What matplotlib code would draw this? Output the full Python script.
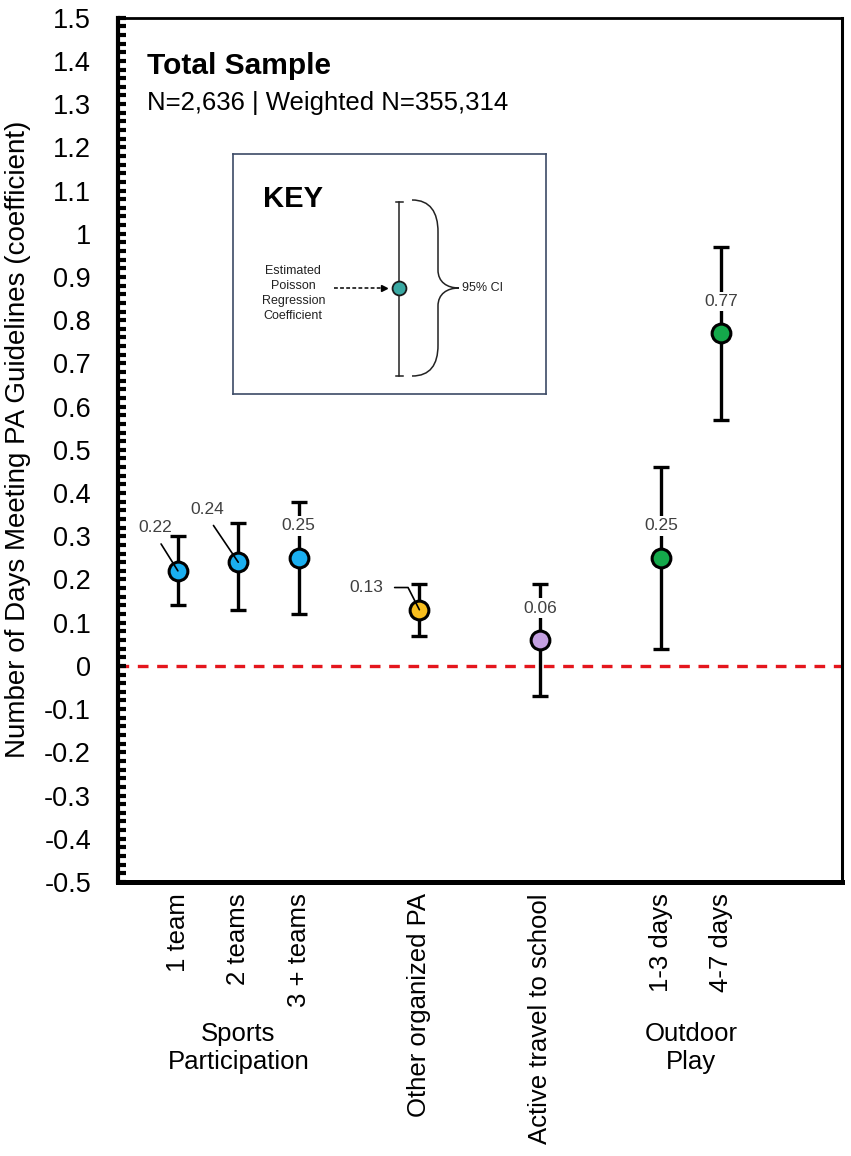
import numpy as np
import matplotlib
matplotlib.use("Agg")
from matplotlib import pyplot as plt
from matplotlib.path import Path
from matplotlib.patches import PathPatch
from matplotlib.ticker import MultipleLocator, FuncFormatter

plt.rcParams['font.family'] = ['Liberation Sans', 'DejaVu Sans']

# groups of predictors (x axis)
group_names = ["Sports\nParticipation", "", "", "Outdoor\nPlay"]
group_items = [["1 team", "2 teams", "3 + teams"],
               ["Other organized PA"],
               ["Active travel to school"],
               ["1-3 days", "4-7 days"]]

# Poisson regression coefficients and 95% CI
coef = [0.22, 0.24, 0.25, 0.13, 0.06, 0.25, 0.77]
ci_low = [0.14, 0.13, 0.12, 0.07, -0.07, 0.04, 0.57]
ci_high = [0.30, 0.33, 0.38, 0.19, 0.19, 0.46, 0.97]
labels = ["0.22", "0.24", "0.25", "0.13", "0.06", "0.25", "0.77"]

colors = ['#1aaff0', '#1aaff0', '#1aaff0', '#f8be1e', '#c4a0e0', '#14a94b', '#14a94b']
# label placement (offset in points from the marker, leader type)
label_style = [((-16, 31), 'lead'), ((-22, 38), 'lead'), ((0, 23), 'box'),
               ((-38, 16), 'elbow'), ((0, 23), 'box'), ((0, 23), 'box'), ((0, 23), 'box')]

# x positions: 1 apart inside a group, 2 apart between groups
xpos, names, group_x = [], [], []
x = 1
for items in group_items:
    gx = []
    for it in items:
        xpos.append(x)
        names.append(it)
        gx.append(x)
        x += 1
    group_x.append(np.mean(gx))
    x += 1
xpos = np.array(xpos, dtype=float)
coef = np.array(coef)
ci_low = np.array(ci_low)
ci_high = np.array(ci_high)

W, H = 851, 1156
fig = plt.figure(figsize=(W / 100, H / 100), dpi=100)
ax = fig.add_axes([117.5 / W, 1 - 882 / H, (842 - 117.5) / W, (882 - 17.7) / H])

ax.set_xlim(0, 12)
ax.set_ylim(-0.5, 1.5)

ax.axhline(0, color='#e4161d', lw=2.4, dashes=(3.2, 2.6), zorder=1)

ax.errorbar(xpos, coef, yerr=[coef - ci_low, ci_high - coef], fmt='none',
            ecolor='black', elinewidth=2.4, capsize=5.6, capthick=2.4, zorder=2)
for xi, yi, c in zip(xpos, coef, colors):
    ax.plot(xi, yi, 'o', ms=13.5, mfc=c, mec='black', mew=2.2, zorder=4)

for xi, yi, lab, (off, kind) in zip(xpos, coef, labels, label_style):
    kw = dict(xy=(xi, yi), xytext=off, textcoords='offset points',
              ha='center', va='center', fontsize=12.5, color='#404040', zorder=5)
    if kind == 'box':
        ax.annotate(lab, bbox=dict(boxstyle='square,pad=0.12', fc='white', ec='none'), **kw)
    elif kind == 'lead':
        ax.annotate(lab, arrowprops=dict(arrowstyle='-', color='black', lw=1.2,
                                         relpos=(0.5, 0), shrinkA=5, shrinkB=0), **kw)
    else:
        ax.annotate(lab, arrowprops=dict(arrowstyle='-', color='black', lw=1.2,
                                         connectionstyle='angle,angleA=0,angleB=-63,rad=0',
                                         relpos=(1, 0.5), shrinkA=6, shrinkB=0), **kw)

# axes styling
ax.spines['left'].set_linewidth(3)
ax.spines['bottom'].set_linewidth(3.6)
ax.spines['top'].set_linewidth(2)
ax.spines['right'].set_linewidth(2.2)

ax.yaxis.set_major_locator(MultipleLocator(0.1))
ax.yaxis.set_minor_locator(MultipleLocator(0.02))
ax.yaxis.set_major_formatter(FuncFormatter(lambda v, _: f"{round(v, 1) + 0:g}"))
ax.tick_params(axis='y', which='both', direction='in', length=6, width=3,
               labelsize=19.5, pad=19)
ax.tick_params(axis='x', length=0, pad=8)
ax.set_xticks(xpos)
ax.set_xticklabels(names, rotation=90, fontsize=18.5, va='top', ha='center')

for gx, g in zip(group_x, group_names):
    if g:
        ax.text(gx, -0.192, g, transform=ax.get_xaxis_transform(), ha='center', va='center',
                fontsize=18.5, linespacing=1.2)

fig.text(18 / W, 1 - 439 / H, "Number of Days Meeting PA Guidelines (coefficient)",
         rotation=90, ha='center', va='center', fontsize=20)

ax.text(0.041, 0.935, "Total Sample", transform=ax.transAxes, fontsize=21.5,
        fontweight='bold', va='baseline')
ax.text(0.041, 0.893, "N=2,636 | Weighted N=355,314", transform=ax.transAxes,
        fontsize=18.5, va='baseline')

# key box (drawn in pixel-like coordinates of its own inset)
kx0, ky0, kx1, ky1 = 233, 154, 546, 394
ak = fig.add_axes([kx0 / W, 1 - ky1 / H, (kx1 - kx0) / W, (ky1 - ky0) / H])
ak.set_xlim(kx0, kx1)
ak.set_ylim(ky1, ky0)
ak.set_xticks([])
ak.set_yticks([])
for s in ak.spines.values():
    s.set_color('#3c4a66')
    s.set_linewidth(1.2)

ak.text(263, 207, "KEY", fontsize=21, fontweight='bold', va='baseline', ha='left')
cx, cy, top, bot = 399, 287.7, 201.7, 375.7
ak.plot([cx, cx], [top, bot], color='#222222', lw=1.1)
ak.plot([cx - 3.5, cx + 3.5], [top, top], color='#222222', lw=1.1)
ak.plot([cx - 3.5, cx + 3.5], [bot, bot], color='#222222', lw=1.1)
ak.plot(cx, cy, 'o', ms=10, mfc='#3aa9a3', mec='#1a1a1a', mew=1.3, zorder=3)
ak.plot([334, 382], [cy, cy], color='black', lw=1.1, dashes=(2.5, 1.5))
ak.plot(384, cy, marker='>', ms=5, color='black', lw=0)
ak.text(293.3, 293.7, "Estimated\nPoisson\nRegression\nCoefficient", ha='center',
        va='center', fontsize=9, color='#222222', linespacing=1.35)

verts = [(412, 200), (430, 200), (438, 212), (438, 232), (438, 270),
         (438, 282), (447, 288), (459, 288),
         (447, 288), (438, 294), (438, 306), (438, 345),
         (438, 365), (430, 376), (412, 376)]
codes = [Path.MOVETO, Path.CURVE4, Path.CURVE4, Path.CURVE4, Path.LINETO,
         Path.CURVE4, Path.CURVE4, Path.CURVE4,
         Path.CURVE4, Path.CURVE4, Path.CURVE4, Path.LINETO,
         Path.CURVE4, Path.CURVE4, Path.CURVE4]
ak.add_patch(PathPatch(Path(verts, codes), fc='none', ec='#222222', lw=1.1))
ak.text(462, cy, "95% CI", ha='left', va='center', fontsize=9, color='#222222')

fig.savefig("out.png", dpi=100)
